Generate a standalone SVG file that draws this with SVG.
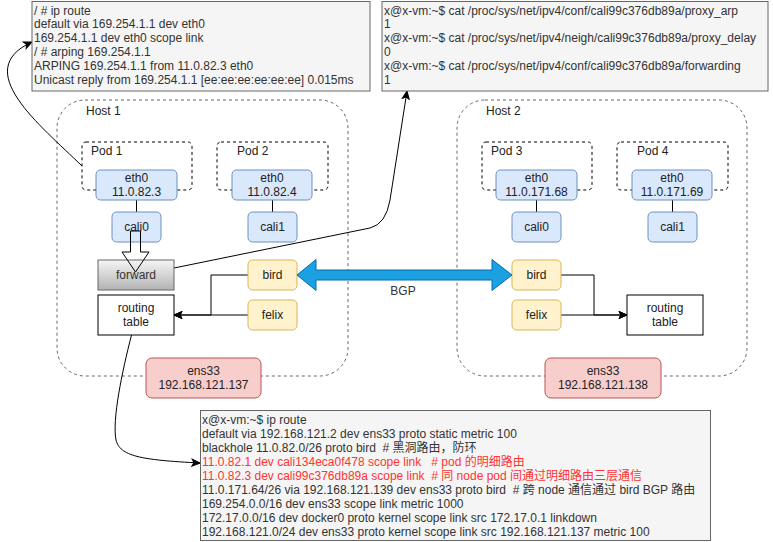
<svg xmlns="http://www.w3.org/2000/svg" width="773" height="542" viewBox="0 0 773 542">
<style>
text{font-family:"Liberation Sans",Arial,"Noto Sans CJK SC",sans-serif;font-size:12px;fill:#222;}
.c{text-anchor:middle;}
.pre{white-space:pre;}
.note rect{fill:#f5f5f5;stroke:#666;stroke-width:1;}
.note text{fill:#333;}
.red{fill:#ff3333 !important;}
.host{fill:none;stroke:#666;stroke-dasharray:3 3;}
.pod{fill:none;stroke:#000;stroke-dasharray:3 3;}
.blue{fill:#dae8fc;stroke:#6c8ebf;}
.yellow{fill:#fff2cc;stroke:#d6b656;}
.redbox{fill:#f8cecc;stroke:#b85450;}
.plain{fill:#fff;stroke:#000;}
.ln{fill:none;stroke:#000;stroke-width:1;}
</style>
<defs>
<marker id="arr" markerUnits="userSpaceOnUse" markerWidth="10" markerHeight="10" viewBox="0 0 10 10" refX="9" refY="5" orient="auto">
<path d="M1,1.5 L9,5 L1,8.5 L3,5 z" fill="#000" stroke="#000" stroke-width="1"/>
</marker>
<linearGradient id="gfw" x1="0" y1="0" x2="0" y2="1">
<stop offset="0" stop-color="#f5f5f5"/>
<stop offset="1" stop-color="#b3b3b3"/>
</linearGradient>
</defs>
<rect width="773" height="542" fill="#fff"/>

<g id="host1"><rect class="host" x="57" y="100" width="291" height="276" rx="28"/><text x="86" y="115">Host 1</text></g>
<g id="host2"><rect class="host" x="457" y="100" width="290" height="276" rx="28"/><text x="486" y="115">Host 2</text></g>

<g id="pod1"><rect class="pod" x="82" y="142" width="110" height="48" rx="4"/><text x="91" y="155">Pod 1</text></g>
<g id="pod2"><rect class="pod" x="217" y="142" width="111" height="48" rx="4"/><text x="237" y="155">Pod 2</text></g>
<g id="pod3"><rect class="pod" x="482" y="142" width="110" height="48" rx="4"/><text x="491" y="155">Pod 3</text></g>
<g id="pod4"><rect class="pod" x="617" y="142" width="111" height="48" rx="4"/><text x="637" y="155">Pod 4</text></g>

<g id="connectors">
<path class="ln" d="M136.5,200 V212"/>
<path class="ln" d="M272.5,200 V212"/>
<path class="ln" d="M536.5,200 V212"/>
<path class="ln" d="M672.5,200 V212"/>
<path class="ln" d="M248,275 H211 V315 H174" marker-end="url(#arr)"/>
<path class="ln" d="M248,315 H174" marker-end="url(#arr)"/>
<path class="ln" d="M561,275 H594 V315 H627" marker-end="url(#arr)"/>
<path class="ln" d="M561,315 H627" marker-end="url(#arr)"/>
<path class="ln" d="M82,166 C40,125 -30,70 32,42" marker-end="url(#arr)"/>
<path class="ln" d="M174,268 L370,228 Q386,224 390,200 L407,91" marker-end="url(#arr)"/>
<path class="ln" d="M131.5,335 C122,372 112,420 116,440 C120,456 140,460 200,463" marker-end="url(#arr)"/>
</g>

<g id="eth0-pod1"><rect class="blue" x="96" y="170" width="81" height="30" rx="4.5"/><text class="c" x="136.5" y="182">eth0</text><text class="c" x="136.5" y="195.5">11.0.82.3</text></g>
<g id="eth0-pod2"><rect class="blue" x="232" y="170" width="80" height="30" rx="4.5"/><text class="c" x="272" y="182">eth0</text><text class="c" x="272" y="195.5">11.0.82.4</text></g>
<g id="eth0-pod3"><rect class="blue" x="496" y="170" width="81" height="30" rx="4.5"/><text class="c" x="536.5" y="182">eth0</text><text class="c" x="536.5" y="195.5">11.0.171.68</text></g>
<g id="eth0-pod4"><rect class="blue" x="632" y="170" width="80" height="30" rx="4.5"/><text class="c" x="672" y="182">eth0</text><text class="c" x="672" y="195.5">11.0.171.69</text></g>

<g id="cali0-h1"><rect class="blue" x="112" y="212" width="49" height="30" rx="4.5"/><text class="c" x="136.5" y="231">cali0</text></g>
<g id="cali1-h1"><rect class="blue" x="248" y="212" width="49" height="30" rx="4.5"/><text class="c" x="272.5" y="231">cali1</text></g>
<g id="cali0-h2"><rect class="blue" x="512" y="212" width="49" height="30" rx="4.5"/><text class="c" x="536.5" y="231">cali0</text></g>
<g id="cali1-h2"><rect class="blue" x="648" y="212" width="49" height="30" rx="4.5"/><text class="c" x="672.5" y="231">cali1</text></g>

<g id="forward"><rect x="98" y="260" width="76" height="30" fill="url(#gfw)" stroke="#666"/><text class="c" x="136" y="279" style="fill:#333">forward</text></g>
<g id="routing-h1"><rect class="plain" x="98" y="295" width="76" height="40"/><text class="c" x="136" y="312">routing</text><text class="c" x="136" y="326">table</text></g>
<g id="routing-h2"><rect class="plain" x="627" y="295" width="76" height="40"/><text class="c" x="665" y="312">routing</text><text class="c" x="665" y="326">table</text></g>

<g id="bird-h1"><rect class="yellow" x="248" y="260" width="49" height="30" rx="4.5"/><text class="c" x="272.5" y="279">bird</text></g>
<g id="felix-h1"><rect class="yellow" x="248" y="300" width="49" height="30" rx="4.5"/><text class="c" x="272.5" y="319">felix</text></g>
<g id="bird-h2"><rect class="yellow" x="512" y="260" width="49" height="30" rx="4.5"/><text class="c" x="536.5" y="279">bird</text></g>
<g id="felix-h2"><rect class="yellow" x="512" y="300" width="49" height="30" rx="4.5"/><text class="c" x="536.5" y="319">felix</text></g>

<g id="ens33-h1"><rect class="redbox" x="146" y="358" width="115" height="40" rx="6"/><text class="c" x="203.5" y="375">ens33</text><text class="c" x="203.5" y="389">192.168.121.137</text></g>
<g id="ens33-h2"><rect class="redbox" x="545" y="358" width="116" height="40" rx="6"/><text class="c" x="603" y="375">ens33</text><text class="c" x="603" y="389">192.168.121.138</text></g>

<g id="block-arrows">
<polygon points="130.5,231 140.5,231 140.5,252 149,252 135.5,272 122,252 130.5,252" fill="none" stroke="#000"/>
<polygon points="297,275 316,259.5 316,270 492,270 492,259.5 512,275 492,290.5 492,280 316,280 316,290.5" fill="#1ba1e2" stroke="#006eaf"/>
<text class="c" x="403" y="295" style="fill:#333">BGP</text>
</g>

<g id="note-arp" class="note">
<rect x="32" y="1.5" width="338" height="89.5"/>
<text x="34" y="14.5">/ # ip route</text>
<text x="34" y="28.3">default via 169.254.1.1 dev eth0</text>
<text x="34" y="42.1">169.254.1.1 dev eth0 scope link</text>
<text x="34" y="55.9">/ # arping 169.254.1.1</text>
<text x="34" y="69.7">ARPING 169.254.1.1 from 11.0.82.3 eth0</text>
<text x="34" y="83.5">Unicast reply from 169.254.1.1 [ee:ee:ee:ee:ee:ee] 0.015ms</text>
</g>

<g id="note-proxy" class="note">
<rect x="382" y="1.5" width="386" height="89.5"/>
<text x="384" y="14.5">x@x-vm:~$ cat /proc/sys/net/ipv4/conf/cali99c376db89a/proxy_arp</text>
<text x="384" y="28.3">1</text>
<text x="384" y="42.1">x@x-vm:~$ cat /proc/sys/net/ipv4/neigh/cali99c376db89a/proxy_delay</text>
<text x="384" y="55.9">0</text>
<text x="384" y="69.7">x@x-vm:~$ cat /proc/sys/net/ipv4/conf/cali99c376db89a/forwarding</text>
<text x="384" y="83.5">1</text>
</g>

<g id="note-route" class="note">
<rect x="200.5" y="410.5" width="510" height="130"/>
<text class="pre" x="202" y="424">x@x-vm:~$ ip route</text>
<text class="pre" x="202" y="438">default via 192.168.121.2 dev ens33 proto static metric 100</text>
<text class="pre" x="202" y="452">blackhole 11.0.82.0/26 proto bird  # 黑洞路由，防环</text>
<text class="pre red" x="202" y="466">11.0.82.1 dev cali134eca0f478 scope link   # pod 的明细路由</text>
<text class="pre red" x="202" y="480">11.0.82.3 dev cali99c376db89a scope link  # 同 node pod 间通过明细路由三层通信</text>
<text class="pre" x="202" y="494">11.0.171.64/26 via 192.168.121.139 dev ens33 proto bird  # 跨 node 通信通过 bird BGP 路由</text>
<text class="pre" x="202" y="508">169.254.0.0/16 dev ens33 scope link metric 1000</text>
<text class="pre" x="202" y="522">172.17.0.0/16 dev docker0 proto kernel scope link src 172.17.0.1 linkdown</text>
<text class="pre" x="202" y="536">192.168.121.0/24 dev ens33 proto kernel scope link src 192.168.121.137 metric 100</text>
</g>
</svg>
